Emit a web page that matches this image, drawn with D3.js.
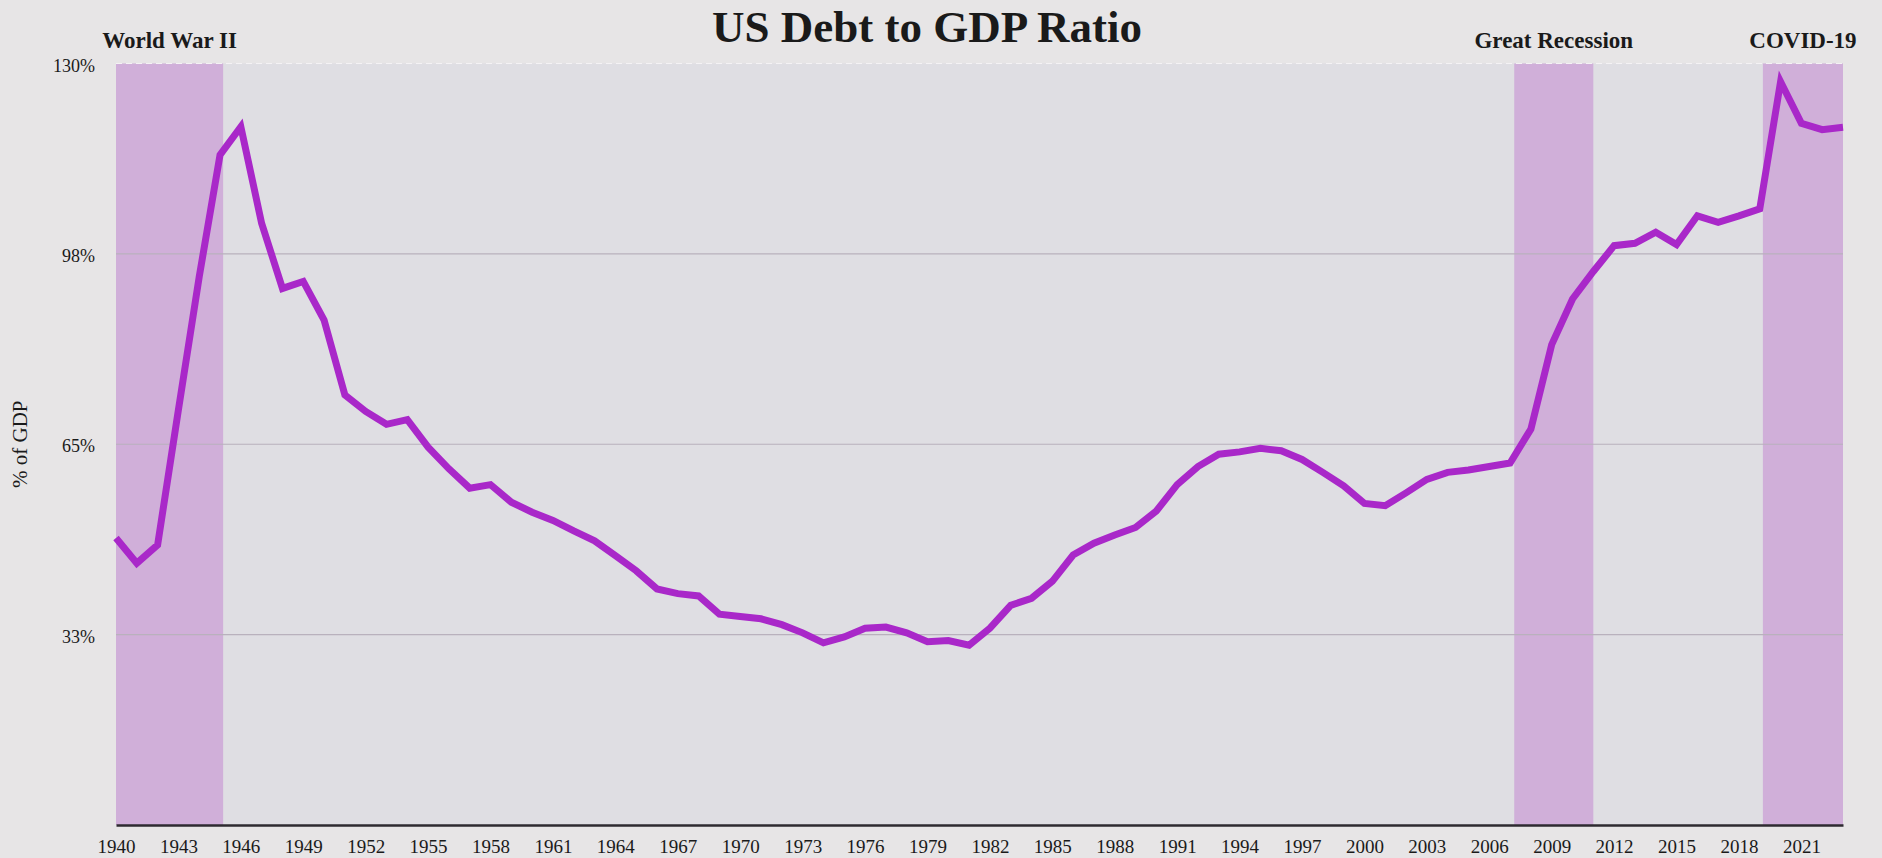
<!DOCTYPE html>
<html>
<head>
<meta charset="utf-8">
<script src="https://cdn.jsdelivr.net/npm/d3@7"></script>
<style>
  html, body { margin: 0; padding: 0; background: #e7e5e6; }
  svg { display: block; }
  text { font-family: "Liberation Serif", "DejaVu Serif", serif; fill: #1a1a1a; }
</style>
</head>
<body>
<svg id="chart" width="1882" height="858"></svg>
<script>
// ---- Data ----
const years = d3.range(1940, 2024);
const debtPct = [
  49.0, 44.7, 47.8, 70.9, 93.6, 114.4, 119.2, 102.7, 91.6, 92.8,   // 1940-1949
  86.2, 73.4, 70.6, 68.4, 69.2, 64.5, 60.8, 57.5, 58.1, 55.1,      // 1950-1959
  53.4, 52.0, 50.2, 48.5, 46.0, 43.4, 40.3, 39.5, 39.1, 36.0,      // 1960-1969
  35.6, 35.2, 34.2, 32.8, 31.1, 32.1, 33.6, 33.8, 32.8, 31.3,      // 1970-1979
  31.5, 30.7, 33.6, 37.5, 38.7, 41.6, 46.1, 48.1, 49.5, 50.8,      // 1980-1989
  53.6, 58.1, 61.2, 63.3, 63.7, 64.3, 63.9, 62.4, 60.2, 57.9,      // 1990-1999
  54.9, 54.5, 56.7, 59.0, 60.2, 60.6, 61.2, 61.8, 67.6, 82.0,      // 2000-2009
  89.8, 94.5, 98.9, 99.3, 101.2, 99.1, 104.0, 102.9, 104.0, 105.2, // 2010-2019
  126.9, 119.8, 118.7, 119.1                                       // 2020-2023
];
const bandNames = ["World War II", "Great Recession", "COVID-19"];
const bandStarts = [1940, 2007.2, 2019.15];
const bandEnds = [1945.15, 2011, 2023];
const xTickYears = d3.range(1940, 2022, 3);
const yTickValues = [32.5, 65, 97.5, 130];
const yTickLabels = ["33%", "65%", "98%", "130%"];
const titleText = "US Debt to GDP Ratio";
const yAxisTitle = "% of GDP";

(function () {
// ---- Layout ----
const svg = d3.select("#chart");
const pLeft = 116, pRight = 1843, pTop = 63.5, pBottom = 825;

const x = d3.scaleLinear().domain([1940, 2023]).range([pLeft, pRight]);
const y = d3.scaleLinear().domain([0, 130]).range([pBottom, pTop]);

const bands = bandNames.map((n, i) => ({ name: n, s: bandStarts[i], e: bandEnds[i] }));

// plot background
svg.append("rect")
  .attr("x", pLeft).attr("y", pTop)
  .attr("width", pRight - pLeft).attr("height", pBottom - pTop)
  .attr("fill", "#dfdee3");

// event bands
svg.append("g").selectAll("rect")
  .data(bands)
  .join("rect")
  .attr("x", d => x(d.s))
  .attr("y", pTop)
  .attr("width", d => x(d.e) - x(d.s))
  .attr("height", pBottom - pTop)
  .attr("fill", "#d0afd9");

// grid lines
svg.append("g").selectAll("line")
  .data(yTickValues)
  .join("line")
  .attr("x1", pLeft).attr("x2", pRight)
  .attr("y1", d => y(d)).attr("y2", d => y(d))
  .attr("stroke", d => d === 130 ? "#f4f2f4" : "#b9b1bd")
  .attr("stroke-width", 1.2)
  .attr("stroke-dasharray", d => d === 130 ? "6,4" : null);

// y tick labels
svg.append("g").selectAll("text")
  .data(yTickValues)
  .join("text")
  .attr("x", 95)
  .attr("y", d => y(d) + 8)
  .attr("text-anchor", "end")
  .attr("font-size", 18)
  .text((d, i) => yTickLabels[i]);

// y axis title
svg.append("text")
  .attr("transform", `translate(27, ${y(65)}) rotate(-90)`)
  .attr("text-anchor", "middle")
  .attr("font-size", 21)
  .text(yAxisTitle);

// x axis
const xAxis = d3.axisBottom(x)
  .tickValues(xTickYears)
  .tickFormat(d3.format("d"))
  .tickSize(0)
  .tickPadding(15);
const gx = svg.append("g")
  .attr("transform", `translate(0, ${pBottom})`)
  .call(xAxis);
gx.select(".domain").attr("stroke", "#2e2a30").attr("stroke-width", 2.5);
gx.selectAll(".tick text")
  .attr("font-size", 19)
  .attr("font-family", "\"Liberation Serif\", serif")
  .attr("fill", "#1a1a1a");

// line
const line = d3.line()
  .x((d, i) => x(years[i]))
  .y(d => y(d));
svg.append("path")
  .datum(debtPct)
  .attr("d", line)
  .attr("fill", "none")
  .attr("stroke", "#a928c9")
  .attr("stroke-width", 7)
  .attr("stroke-linejoin", "miter")
  .attr("stroke-linecap", "butt");

// band labels
svg.append("g").selectAll("text")
  .data(bands)
  .join("text")
  .attr("x", d => (x(d.s) + x(d.e)) / 2)
  .attr("y", 48)
  .attr("text-anchor", "middle")
  .attr("font-size", 23)
  .attr("font-weight", "bold")
  .text(d => d.name);

// title
svg.append("text")
  .attr("x", 927)
  .attr("y", 42)
  .attr("text-anchor", "middle")
  .attr("font-size", 45)
  .attr("font-weight", "bold")
  .text(titleText);
})();
</script>
</body>
</html>
